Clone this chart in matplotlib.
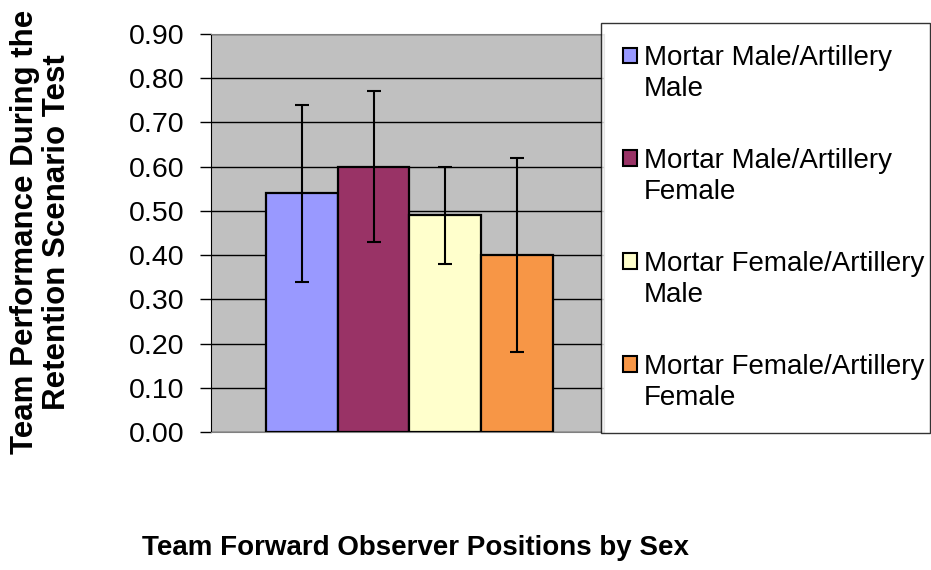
import numpy as np
import matplotlib
matplotlib.use("Agg")
import matplotlib.pyplot as plt
from matplotlib.patches import Patch, Rectangle
from matplotlib.legend_handler import HandlerPatch

plt.rcParams['font.family'] = ['Liberation Sans', 'DejaVu Sans']

# datos
grupos = ["Mortar Male/Artillery\nMale", "Mortar Male/Artillery\nFemale",
          "Mortar Female/Artillery\nMale", "Mortar Female/Artillery\nFemale"]
medias = [0.54, 0.60, 0.49, 0.40]
errores = [0.20, 0.17, 0.11, 0.22]
colores = ["#9999FF", "#993366", "#FFFFCC", "#F79646"]
yticks = [0.0, 0.1, 0.2, 0.3, 0.4, 0.5, 0.6, 0.7, 0.8, 0.9]

W, H = 931, 570
fig = plt.figure(figsize=(W/100, H/100), dpi=100)
ax = fig.add_axes([211/W, 1-432/H, (604-211)/W, (432-34)/H])
ax.set_facecolor("#C0C0C0")

x = np.arange(len(medias))
ax.bar(x, medias, width=1.0, color=colores, edgecolor="black", linewidth=1.6, zorder=3)
ax.errorbar(x, medias, yerr=errores, fmt="none", ecolor="black", elinewidth=1.5,
            capsize=5, capthick=1.5, zorder=4)

ax.set_xlim(-1.264, 4.21)
ax.set_ylim(0, 0.9)
ax.set_yticks(yticks)
ax.set_yticklabels(["%.2f" % v for v in yticks], fontsize=20.5)
ax.set_xticks([])
ax.yaxis.grid(True, color="black", linewidth=1.0, zorder=0)
ax.set_axisbelow(True)
ax.tick_params(axis="y", length=8, width=1, pad=11, direction="out")
ax.spines["left"].set_color("black")
for s in ["top", "right", "bottom"]:
    ax.spines[s].set_color("#808080")

fig.text(41/W, 1-232/H, "Team Performance During the\nRetention Scenario Test",
         rotation=90, ha="center", va="center", fontsize=22.5, fontweight="bold",
         multialignment="center", linespacing=1.1)
fig.text(415/W, 1-548/H, "Team Forward Observer Positions by Sex",
         ha="center", va="center", fontsize=20, fontweight="bold")

# el cuadrito de la leyenda va alineado con la primera linea del texto
def cuadro_arriba(legend, orig_handle, xdescent, ydescent, width, height, fontsize):
    return Rectangle((-xdescent, -ydescent + 0.66*fontsize), width, height)

handles = [Patch(facecolor=c, edgecolor="black", linewidth=1.5) for c in colores]
leg = fig.legend(handles, grupos, loc="upper left",
                 bbox_to_anchor=(601/W, 1-23/H, 329/W, 0), mode="expand",
                 fontsize=20, frameon=True,
                 fancybox=False, edgecolor="black", labelspacing=1.65,
                 handlelength=0.5, handleheight=0.5, handletextpad=0.25,
                 borderpad=0.8, borderaxespad=0,
                 handler_map={Patch: HandlerPatch(patch_func=cuadro_arriba)})
leg.get_frame().set_linewidth(1.0)
for t in leg.get_texts():
    t.set_linespacing(1.25)

fig.savefig("out.png", dpi=100)
